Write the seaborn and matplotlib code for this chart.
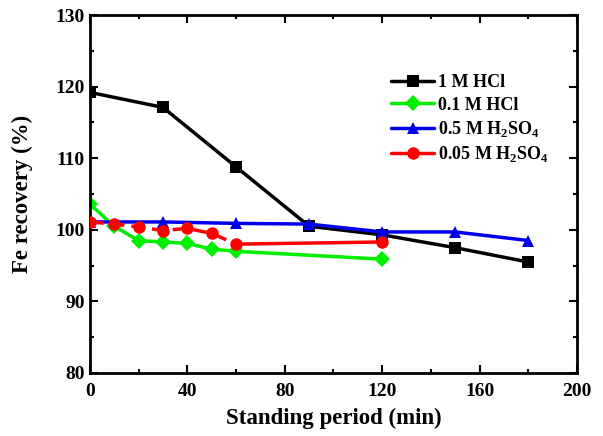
import numpy as np
import pandas as pd
import matplotlib
matplotlib.use("Agg")
import matplotlib.pyplot as plt
import seaborn as sns
from matplotlib.ticker import MultipleLocator

# ---------------------------------
# Data
# ---------------------------------

t_hcl_1m = [0, 30, 60, 90, 120, 150, 180]
fe_hcl_1m = [119.2, 117.1, 108.8, 100.5, 99.3, 97.5, 95.5]

t_hcl_01m = [0, 10, 20, 30, 40, 50, 60, 120]
fe_hcl_01m = [103.6, 100.5, 98.5, 98.3, 98.1, 97.3, 97.0, 95.9]

t_h2so4_05m = [0, 30, 60, 90, 120, 150, 180]
fe_h2so4_05m = [101.1, 101.1, 100.9, 100.8, 99.7, 99.7, 98.5]

t_h2so4_005m = [0, 10, 20, 30, 40, 50, 60, 120]
fe_h2so4_005m = [101.1, 100.8, 100.4, 99.9, 100.2, 99.5, 98.0, 98.3]

# ---------------------------------
# Style
# ---------------------------------

sns.set_style("ticks")
plt.rcParams["font.family"] = ["Liberation Serif", "DejaVu Serif"]
plt.rcParams["font.weight"] = "bold"
plt.rcParams["mathtext.fontset"] = "custom"
plt.rcParams["mathtext.rm"] = "Liberation Serif:bold"
plt.rcParams["mathtext.bf"] = "Liberation Serif:bold"
plt.rcParams["text.color"] = "black"
plt.rcParams["axes.labelcolor"] = "black"
plt.rcParams["xtick.color"] = "black"
plt.rcParams["ytick.color"] = "black"
plt.rcParams["axes.edgecolor"] = "black"

fig = plt.figure(figsize=(6.03, 4.36), dpi=100)
ax = fig.add_axes([0.149, 0.1445, 0.808, 0.821])

lw = 2.5
ms = 8

sns.lineplot(x=t_hcl_1m, y=fe_hcl_1m, ax=ax, color="black", marker="s",
             markersize=ms, linewidth=lw, markeredgewidth=0, label="1 M HCl")
sns.lineplot(x=t_hcl_01m, y=fe_hcl_01m, ax=ax, color="#00ee00", marker="D",
             markersize=ms, linewidth=lw, markeredgewidth=0, label="0.1 M HCl")
sns.lineplot(x=t_h2so4_05m, y=fe_h2so4_05m, ax=ax, color="#0000ee", marker="^",
             markersize=ms + 1, linewidth=lw, markeredgewidth=0,
             label=r"0.5 M H$_2$SO$_4$")

# red series: dashed part up to 60 min, solid afterwards
ax.plot(t_h2so4_005m[:7], fe_h2so4_005m[:7], color="#ff0000", linestyle="--",
        dashes=(4, 2), linewidth=lw, zorder=3)
ax.plot(t_h2so4_005m[6:], fe_h2so4_005m[6:], color="#ff0000", linewidth=lw,
        zorder=3)
ax.plot(t_h2so4_005m, fe_h2so4_005m, color="#ff0000", linestyle="none",
        marker="o", markersize=ms + 1, markeredgewidth=0, zorder=4)
ax.plot([], [], color="#ff0000", marker="o", markersize=ms + 1,
        markeredgewidth=0, linewidth=lw, label=r"0.05 M H$_2$SO$_4$")

# ---------------------------------
# Axes
# ---------------------------------

ax.set_xlim(0, 200)
ax.set_ylim(80, 130)
ax.xaxis.set_major_locator(MultipleLocator(40))
ax.xaxis.set_minor_locator(MultipleLocator(20))
ax.yaxis.set_major_locator(MultipleLocator(10))
ax.yaxis.set_minor_locator(MultipleLocator(5))

ax.tick_params(which="both", direction="in", top=True, right=True,
               width=1.5, labelsize=14)
ax.tick_params(which="major", length=6)
ax.tick_params(which="minor", length=3)
ax.tick_params(axis="x", pad=7)

for s in ax.spines.values():
    s.set_linewidth(2)
    s.set_visible(True)

ax.set_xlabel("Standing period (min)", fontsize=16.5, fontweight="bold",
              labelpad=6)
ax.set_ylabel("Fe recovery (%)", fontsize=16.5, fontweight="bold")
ax.yaxis.set_label_coords(-0.117, 0.5)

ax.legend(loc="upper right", bbox_to_anchor=(0.975, 0.88), frameon=False,
          handlelength=2.4, handletextpad=0.2, labelspacing=0.3,
          prop={"weight": "bold", "size": 13})

fig.savefig("out.png", dpi=100)
